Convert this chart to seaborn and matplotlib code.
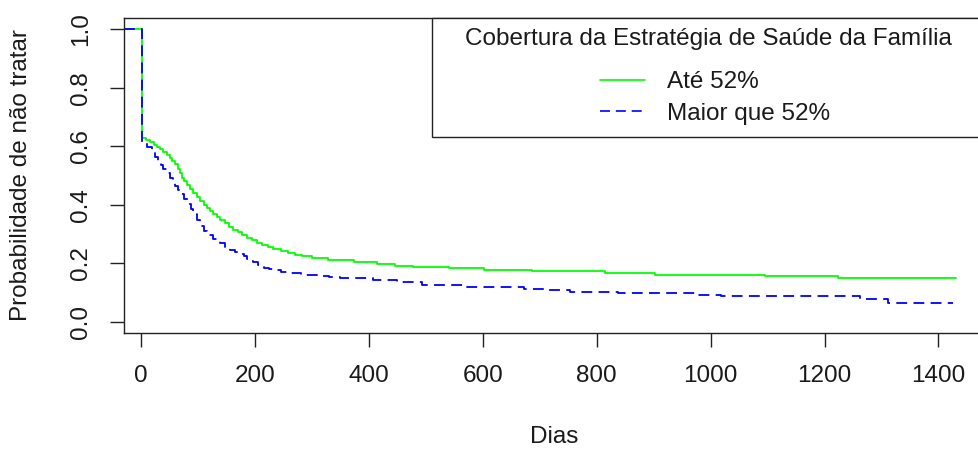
import matplotlib
matplotlib.use("Agg")
import matplotlib.pyplot as plt
from matplotlib.patches import Rectangle
import pandas as pd
import seaborn as sns

# Kaplan-Meier estimates (step curves) for each coverage group
grupos = ["Até 52%", "Maior que 52%"]

dias_ate52 = [-30, 1, 8, 16, 22, 28, 34, 39, 45, 50, 55, 60, 64, 68, 71, 76, 81,
              86, 92, 98, 104, 110, 116, 121, 127, 133, 139, 147, 155, 162, 170,
              178, 186, 194, 203, 212, 222, 232, 245, 258, 270, 283, 300, 329,
              373, 414, 446, 478, 540, 602, 687, 815, 903, 1096, 1223, 1431]
prob_ate52 = [1.000, 0.630, 0.622, 0.613, 0.605, 0.598, 0.589, 0.579, 0.570,
              0.560, 0.549, 0.538, 0.523, 0.508, 0.493, 0.480, 0.466, 0.453,
              0.439, 0.425, 0.412, 0.400, 0.389, 0.378, 0.368, 0.358, 0.349,
              0.337, 0.325, 0.315, 0.305, 0.296, 0.287, 0.278, 0.269, 0.262,
              0.256, 0.250, 0.243, 0.236, 0.229, 0.223, 0.218, 0.210, 0.204,
              0.198, 0.192, 0.187, 0.182, 0.178, 0.172, 0.166, 0.160, 0.155,
              0.149, 0.149]

dias_maior52 = [-30, 1, 10, 19, 25, 30, 35, 39, 45, 51, 56, 60, 64, 68, 76, 83,
                88, 92, 98, 104, 110, 115, 127, 139, 147, 156, 165, 174, 180,
                186, 192, 197, 206, 215, 225, 236, 246, 256, 280, 308, 330, 350,
                408, 449, 493, 566, 672, 711, 753, 838, 974, 1019, 1263, 1311,
                1425]
prob_maior52 = [1.000, 0.615, 0.597, 0.579, 0.565, 0.550, 0.535, 0.521, 0.507,
                0.493, 0.479, 0.465, 0.450, 0.435, 0.418, 0.401, 0.384, 0.367,
                0.347, 0.326, 0.310, 0.295, 0.282, 0.269, 0.257, 0.246, 0.239,
                0.232, 0.223, 0.215, 0.209, 0.203, 0.194, 0.185, 0.180, 0.175,
                0.170, 0.166, 0.161, 0.157, 0.153, 0.149, 0.141, 0.135, 0.124,
                0.118, 0.113, 0.109, 0.103, 0.098, 0.092, 0.086, 0.078, 0.065,
                0.065]

ticks_x = [0, 200, 400, 600, 800, 1000, 1200, 1400]
ticks_y = [0.0, 0.2, 0.4, 0.6, 0.8, 1.0]
rotulos_y = ["0.0", "0.2", "0.4", "0.6", "0.8", "1.0"]

titulo_legenda = "Cobertura da Estratégia de Saúde da Família"
rotulo_x = "Dias"
rotulo_y = "Probabilidade de não tratar"

cores = {"Até 52%": "#00ff00", "Maior que 52%": "#0000ff"}
tracos = {"Até 52%": "", "Maior que 52%": (6, 3.5)}

df = pd.concat([
    pd.DataFrame({"dias": dias_ate52, "prob": prob_ate52, "grupo": grupos[0]}),
    pd.DataFrame({"dias": dias_maior52, "prob": prob_maior52, "grupo": grupos[1]}),
], ignore_index=True)

sns.set_style("ticks")
plt.rcParams["font.family"] = ["Liberation Sans", "DejaVu Sans"]
FS = 17.5
TXT = "#1a1a1a"
LINE = "#222222"

W, H = 979, 453
fig = plt.figure(figsize=(W / 100, H / 100), dpi=100)
fig.patch.set_facecolor("white")

# plot region in pixels: left 124, top 17.7, bottom 333.3, right ~984
ax_left, ax_top, ax_bottom, ax_right = 124, 17.7, 333.3, 984
ax = fig.add_axes([ax_left / W, 1 - ax_bottom / H,
                   (ax_right - ax_left) / W, (ax_bottom - ax_top) / H])


def px_to_axes(xp, yp):
    return ((xp - ax_left) / (ax_right - ax_left),
            (ax_bottom - yp) / (ax_bottom - ax_top))


sns.lineplot(data=df, x="dias", y="prob", hue="grupo", style="grupo",
             palette=cores, dashes=tracos, estimator=None, sort=False,
             drawstyle="steps-post", linewidth=1.3, ax=ax)

ax.set_xlim(-30, 1480)
ax.set_ylim(-0.04, 1.04)
ax.set_xticks(ticks_x)
ax.set_xticklabels([str(t) for t in ticks_x], fontsize=FS)
ax.set_yticks(ticks_y)
ax.set_yticklabels(rotulos_y, fontsize=FS, rotation=90, va="center")
ax.tick_params(axis="both", direction="out", length=10, width=1.0,
               color=LINE, pad=13, labelcolor=TXT)

for s in ax.spines.values():
    s.set_visible(True)
    s.set_linewidth(1.0)
    s.set_color(LINE)

ax.set_xlabel(rotulo_x, fontsize=FS, color=TXT, va="center")
ax.xaxis.set_label_coords(0.5, px_to_axes(0, 437)[1])
ax.set_ylabel(rotulo_y, fontsize=FS, color=TXT, va="center")
ax.yaxis.set_label_coords(px_to_axes(21, 0)[0], 0.5)

# legend frame anchored at the top-right corner of the plot region
bx, by = px_to_axes(432, 137.3)
ax.add_patch(Rectangle((bx, by), 1.2, 1 - by, transform=ax.transAxes,
                       facecolor="white", edgecolor=LINE, linewidth=1.0,
                       zorder=5, clip_on=False))

# legend title centred in the frame
tx, ty = px_to_axes(708, 39)
ax.text(tx, ty, titulo_legenda, transform=ax.transAxes, ha="center",
        va="center", fontsize=FS, color=TXT, zorder=7)

old = ax.get_legend()
handles = list(old.legend_handles)
labels = [t.get_text() for t in old.get_texts()]
old.remove()
pares = [(h, l) for h, l in zip(handles, labels) if l in grupos]
for h, _ in pares:
    h.set_linewidth(1.2)
leg = ax.legend([p[0] for p in pares], [p[1] for p in pares],
                frameon=False, loc="upper left",
                bbox_to_anchor=(600 / W, 1 - 71 / H),
                bbox_transform=fig.transFigure, fontsize=FS,
                handlelength=1.85, handletextpad=0.9,
                labelspacing=0.40, borderpad=0.0, borderaxespad=0.0)
leg.set_zorder(6)
for t in leg.get_texts():
    t.set_color(TXT)

fig.savefig("out.png", dpi=100, facecolor="white")
